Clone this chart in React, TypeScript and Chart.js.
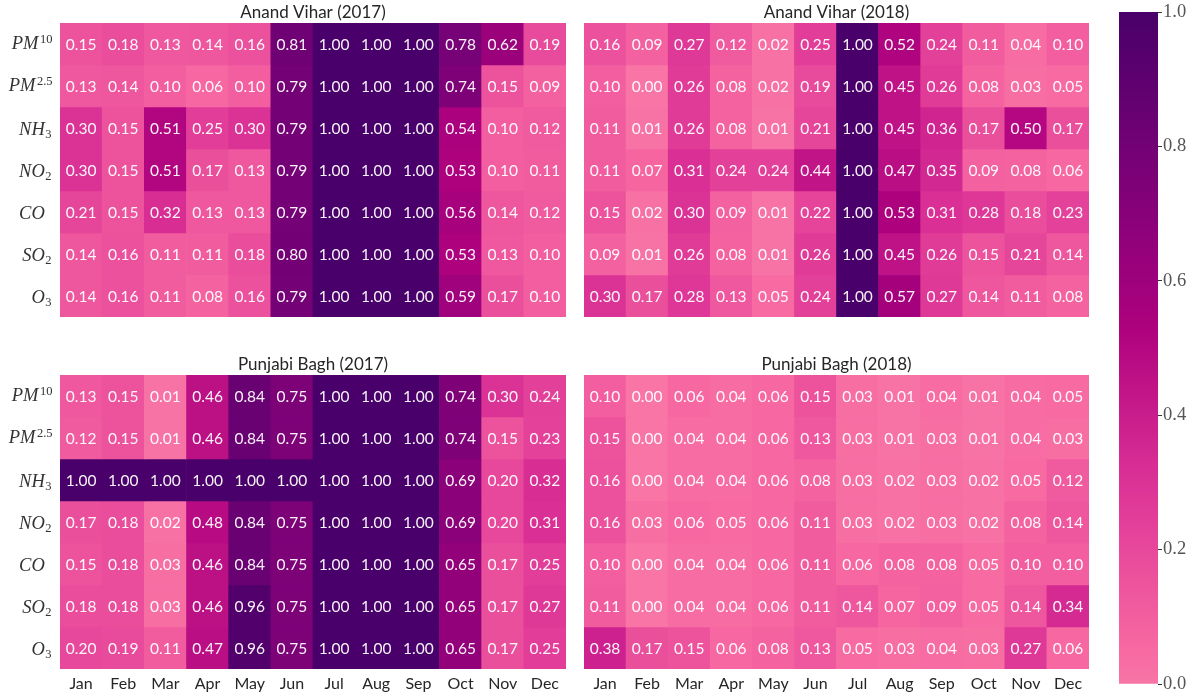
import React, { useEffect, useRef } from 'react';
import { Chart, registerables } from 'chart.js';

Chart.register(...registerables);

const months = ['Jan', 'Feb', 'Mar', 'Apr', 'May', 'Jun', 'Jul', 'Aug', 'Sep', 'Oct', 'Nov', 'Dec'];
const pollutantBase = ['PM', 'PM', 'NH', 'NO', 'CO', 'SO', 'O'];
const pollutantSup = ['10', '2.5', '', '', '', '', ''];
const pollutantSub = ['', '', '3', '2', '', '2', '3'];
const colorbarTicks = [0, 0.2, 0.4, 0.6, 0.8, 1.0];

const anandVihar2017 = [
  [0.15, 0.18, 0.13, 0.14, 0.16, 0.81, 1.0, 1.0, 1.0, 0.78, 0.62, 0.19],
  [0.13, 0.14, 0.10, 0.06, 0.10, 0.79, 1.0, 1.0, 1.0, 0.74, 0.15, 0.09],
  [0.30, 0.15, 0.51, 0.25, 0.30, 0.79, 1.0, 1.0, 1.0, 0.54, 0.10, 0.12],
  [0.30, 0.15, 0.51, 0.17, 0.13, 0.79, 1.0, 1.0, 1.0, 0.53, 0.10, 0.11],
  [0.21, 0.15, 0.32, 0.13, 0.13, 0.79, 1.0, 1.0, 1.0, 0.56, 0.14, 0.12],
  [0.14, 0.16, 0.11, 0.11, 0.18, 0.80, 1.0, 1.0, 1.0, 0.53, 0.13, 0.10],
  [0.14, 0.16, 0.11, 0.08, 0.16, 0.79, 1.0, 1.0, 1.0, 0.59, 0.17, 0.10],
];

const anandVihar2018 = [
  [0.16, 0.09, 0.27, 0.12, 0.02, 0.25, 1.0, 0.52, 0.24, 0.11, 0.04, 0.10],
  [0.10, 0.00, 0.26, 0.08, 0.02, 0.19, 1.0, 0.45, 0.26, 0.08, 0.03, 0.05],
  [0.11, 0.01, 0.26, 0.08, 0.01, 0.21, 1.0, 0.45, 0.36, 0.17, 0.50, 0.17],
  [0.11, 0.07, 0.31, 0.24, 0.24, 0.44, 1.0, 0.47, 0.35, 0.09, 0.08, 0.06],
  [0.15, 0.02, 0.30, 0.09, 0.01, 0.22, 1.0, 0.53, 0.31, 0.28, 0.18, 0.23],
  [0.09, 0.01, 0.26, 0.08, 0.01, 0.26, 1.0, 0.45, 0.26, 0.15, 0.21, 0.14],
  [0.30, 0.17, 0.28, 0.13, 0.05, 0.24, 1.0, 0.57, 0.27, 0.14, 0.11, 0.08],
];

const punjabiBagh2017 = [
  [0.13, 0.15, 0.01, 0.46, 0.84, 0.75, 1.0, 1.0, 1.0, 0.74, 0.30, 0.24],
  [0.12, 0.15, 0.01, 0.46, 0.84, 0.75, 1.0, 1.0, 1.0, 0.74, 0.15, 0.23],
  [1.0, 1.0, 1.0, 1.0, 1.0, 1.0, 1.0, 1.0, 1.0, 0.69, 0.20, 0.32],
  [0.17, 0.18, 0.02, 0.48, 0.84, 0.75, 1.0, 1.0, 1.0, 0.69, 0.20, 0.31],
  [0.15, 0.18, 0.03, 0.46, 0.84, 0.75, 1.0, 1.0, 1.0, 0.65, 0.17, 0.25],
  [0.18, 0.18, 0.03, 0.46, 0.96, 0.75, 1.0, 1.0, 1.0, 0.65, 0.17, 0.27],
  [0.20, 0.19, 0.11, 0.47, 0.96, 0.75, 1.0, 1.0, 1.0, 0.65, 0.17, 0.25],
];

const punjabiBagh2018 = [
  [0.10, 0.00, 0.06, 0.04, 0.06, 0.15, 0.03, 0.01, 0.04, 0.01, 0.04, 0.05],
  [0.15, 0.00, 0.04, 0.04, 0.06, 0.13, 0.03, 0.01, 0.03, 0.01, 0.04, 0.03],
  [0.16, 0.00, 0.04, 0.04, 0.06, 0.08, 0.03, 0.02, 0.03, 0.02, 0.05, 0.12],
  [0.16, 0.03, 0.06, 0.05, 0.06, 0.11, 0.03, 0.02, 0.03, 0.02, 0.08, 0.14],
  [0.10, 0.00, 0.04, 0.04, 0.06, 0.11, 0.06, 0.08, 0.08, 0.05, 0.10, 0.10],
  [0.11, 0.00, 0.04, 0.04, 0.06, 0.11, 0.14, 0.07, 0.09, 0.05, 0.14, 0.34],
  [0.38, 0.17, 0.15, 0.06, 0.08, 0.13, 0.05, 0.03, 0.04, 0.03, 0.27, 0.06],
];

const RDPU = ['#fff7f3', '#fde0dd', '#fcc5c0', '#fa9fb5', '#f768a1', '#dd3497', '#ae017e', '#7a0177', '#49006a'];

function hexToRgb(h: string): number[] {
  return [parseInt(h.slice(1, 3), 16), parseInt(h.slice(3, 5), 16), parseInt(h.slice(5, 7), 16)];
}

function cmap(v: number): string {
  const p = 0.47 + 0.53 * Math.max(0, Math.min(1, v));
  const x = p * (RDPU.length - 1);
  const i = Math.min(RDPU.length - 2, Math.floor(x));
  const t = x - i;
  const a = hexToRgb(RDPU[i]);
  const b = hexToRgb(RDPU[i + 1]);
  const c = a.map((av, k) => Math.round(av + (b[k] - av) * t));
  return `rgb(${c[0]}, ${c[1]}, ${c[2]})`;
}

const TEXT = '#262626';

function drawLabel(ctx: CanvasRenderingContext2D, right: number, baseline: number, base: string, sup: string, sub: string) {
  ctx.font = 'italic 18.5px "Liberation Serif"';
  const wb = ctx.measureText(base).width;
  ctx.font = '12.5px "Liberation Serif"';
  const script = sup || sub || '2';
  const ws = ctx.measureText(script).width + 1;
  const start = right - wb - ws;
  ctx.fillStyle = '#333';
  ctx.textAlign = 'left';
  ctx.textBaseline = 'alphabetic';
  ctx.font = 'italic 18.5px "Liberation Serif"';
  ctx.fillText(base, start, baseline);
  ctx.font = '12.5px "Liberation Serif"';
  if (sup) ctx.fillText(sup, start + wb + 1.5, baseline - 6.5);
  if (sub) ctx.fillText(sub, start + wb + 0.5, baseline + 3.5);
}

type PanelProps = {
  title: string;
  values: number[][];
  left: number;
  top: number;
  width: number;
  height: number;
  showY: boolean;
  showX: boolean;
};

function Panel({ title, values, left, top, width, height, showY, showX }: PanelProps) {
  const ref = useRef<HTMLCanvasElement>(null);
  useEffect(() => {
    const canvas = ref.current!;
    const overlay = {
      id: 'overlay',
      afterDatasetsDraw(chart: any) {
        const ctx = chart.ctx as CanvasRenderingContext2D;
        ctx.save();
        ctx.textAlign = 'center';
        ctx.textBaseline = 'middle';
        ctx.font = '15.5px Lato';
        ctx.fillStyle = 'rgba(255,255,255,0.95)';
        values.forEach((row, r) => {
          const meta = chart.getDatasetMeta(r);
          row.forEach((v, c) => {
            const el = meta.data[c];
            const pt = el.getCenterPoint();
            ctx.fillText(v.toFixed(2), pt.x, pt.y + 0.5);
          });
        });
        ctx.restore();
      },
      afterDraw(chart: any) {
        const ctx = chart.ctx as CanvasRenderingContext2D;
        const area = chart.chartArea;
        ctx.save();
        ctx.fillStyle = TEXT;
        ctx.font = '17px Lato';
        ctx.textAlign = 'center';
        ctx.textBaseline = 'alphabetic';
        ctx.fillText(title, (area.left + area.right) / 2, area.top - 5);
        if (showY) {
          const ys = chart.scales.y;
          pollutantBase.forEach((b, r) => {
            const yc = ys.getPixelForValue(r + 0.5);
            const off = pollutantSup[r] ? 5 : 6.5;
            drawLabel(ctx, area.left - 8, yc + off, b, pollutantSup[r], pollutantSub[r]);
          });
        }
        ctx.restore();
      },
    };
    const xScale: any = {
      type: 'category',
      display: showX,
      offset: true,
      grid: { display: false, drawTicks: false },
      border: { display: false },
      ticks: { color: TEXT, font: { family: 'Lato', size: 16 }, padding: 5, maxRotation: 0, autoSkip: false },
    };
    if (showX) {
      xScale.afterFit = (s: any) => {
        s.height = 29;
      };
    }
    const yScale: any = {
      type: 'linear',
      min: 0,
      max: 7,
      reverse: true,
      display: showY,
      grid: { display: false, drawTicks: false },
      border: { display: false },
      ticks: { display: false },
    };
    if (showY) {
      yScale.afterFit = (s: any) => {
        s.width = 60;
      };
    }
    const chart = new Chart(canvas, {
      type: 'bar',
      data: {
        labels: months,
        datasets: values.map((row, r) => ({
          label: pollutantBase[r] + pollutantSup[r] + pollutantSub[r],
          data: row.map(() => [r, r + 1]),
          backgroundColor: row.map(cmap),
          borderWidth: 0,
          grouped: false,
          barPercentage: 1,
          categoryPercentage: 1,
        })),
      } as any,
      options: {
        responsive: false,
        animation: false,
        events: [],
        layout: { padding: { top: 23, left: showY ? 0 : 14, right: showY ? 4 : 6, bottom: 0 } },
        plugins: { legend: { display: false }, tooltip: { enabled: false } },
        scales: { x: xScale, y: yScale },
      } as any,
      plugins: [overlay],
    });
    return () => chart.destroy();
  }, []);
  return (
    <canvas
      ref={ref}
      width={width}
      height={height}
      style={{ position: 'absolute', left, top, width, height }}
    />
  );
}

function Colorbar() {
  const ref = useRef<HTMLCanvasElement>(null);
  useEffect(() => {
    const canvas = ref.current!;
    const chart = new Chart(canvas, {
      type: 'bar',
      data: {
        labels: [''],
        datasets: [
          {
            data: [[0, 1]],
            borderWidth: 0,
            barPercentage: 1,
            categoryPercentage: 1,
            backgroundColor: (c: any) => {
              const ch = c.chart;
              if (!ch.chartArea) return cmap(0.5);
              const ys = ch.scales.y;
              const g = ch.ctx.createLinearGradient(0, ys.getPixelForValue(0), 0, ys.getPixelForValue(1));
              for (let k = 0; k <= 40; k++) g.addColorStop(k / 40, cmap(k / 40));
              return g;
            },
          },
        ],
      } as any,
      options: {
        responsive: false,
        animation: false,
        events: [],
        layout: { padding: { top: 11, bottom: 14, left: 24, right: 0 } },
        plugins: { legend: { display: false }, tooltip: { enabled: false } },
        scales: {
          x: { display: false },
          y: {
            position: 'right',
            min: 0,
            max: 1,
            grid: { display: true, drawOnChartArea: false, drawTicks: true, tickLength: 4, color: '#333' },
            border: { display: false },
            afterBuildTicks: (s: any) => {
              s.ticks = colorbarTicks.map((v) => ({ value: v }));
            },
            ticks: {
              callback: (v: any) => Number(v).toFixed(1),
              color: '#555',
              font: { family: 'Liberation Serif', size: 18.5 },
              padding: 1,
            },
            afterFit: (s: any) => {
              s.width = 40;
            },
          },
        },
      } as any,
    });
    return () => chart.destroy();
  }, []);
  return <canvas ref={ref} width={103} height={698} style={{ position: 'absolute', left: 1095, top: 0, width: 103, height: 698 }} />;
}

export default function App() {
  return (
    <div style={{ position: 'absolute', left: 0, top: 0, width: 1198, height: 698, background: '#fff', overflow: 'hidden' }}>
      <Panel title="Anand Vihar (2017)" values={anandVihar2017} left={0} top={0} width={570} height={317} showY={true} showX={false} />
      <Panel title="Anand Vihar (2018)" values={anandVihar2018} left={570} top={0} width={525} height={317} showY={false} showX={false} />
      <Panel title="Punjabi Bagh (2017)" values={punjabiBagh2017} left={0} top={352} width={570} height={346} showY={true} showX={true} />
      <Panel title="Punjabi Bagh (2018)" values={punjabiBagh2018} left={570} top={352} width={525} height={346} showY={false} showX={true} />
      <Colorbar />
    </div>
  );
}
